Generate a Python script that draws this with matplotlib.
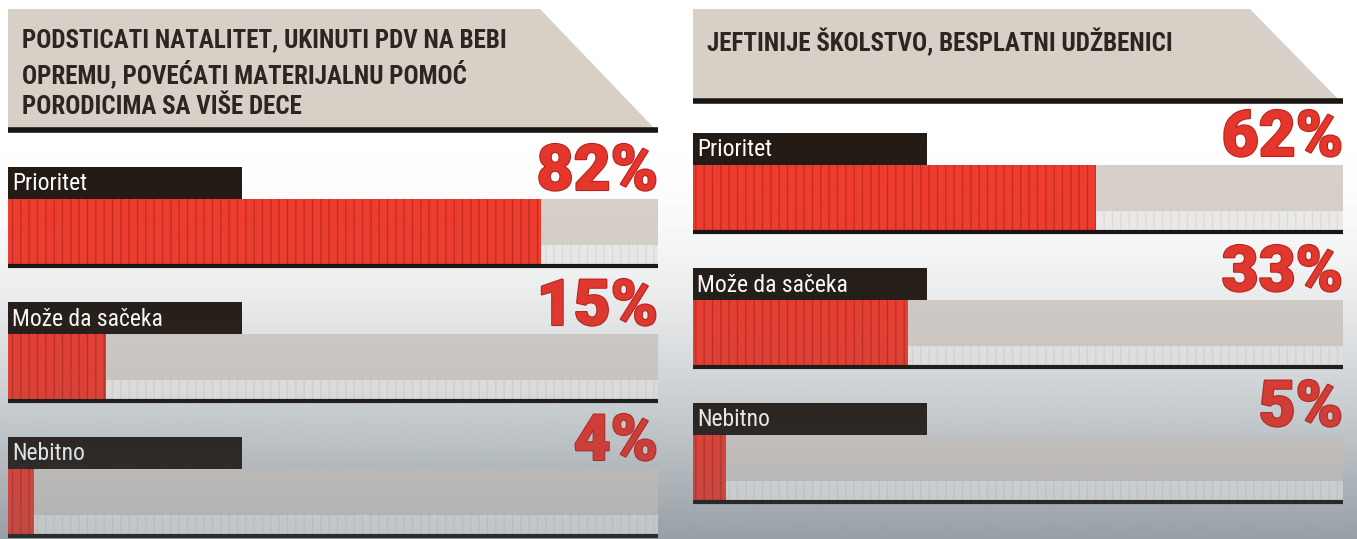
import numpy as np
import matplotlib
matplotlib.use("Agg")
import matplotlib.pyplot as plt
from matplotlib.patches import Polygon
import matplotlib.patheffects as pe

# ---------------- data ----------------
titles = [
    "PODSTICATI NATALITET, UKINUTI PDV NA BEBI\nOPREMU, POVEĆATI MATERIJALNU POMOĆ\nPORODICIMA SA VIŠE DECE",
    "JEFTINIJE ŠKOLSTVO, BESPLATNI UDŽBENICI",
]
categories = ["Prioritet", "Može da sačeka", "Nebitno"]
values_left = [82, 15, 4]
values_right = [62, 33, 5]
all_values = [values_left, values_right]

# ---------------- layout (pixels) ----------------
W, H = 1357, 539
plt.rcParams['hatch.linewidth'] = 0.9
fig = plt.figure(figsize=(W / 100, H / 100), dpi=100)
fig.patch.set_facecolor("white")

cond = ["Roboto Condensed", "IBM Plex Sans Condensed", "DejaVu Sans"]

# background gradient
bg = fig.add_axes([0, 0, 1, 1], zorder=0)
bg.axis("off")
yy = np.arange(H)
tb = np.clip((yy - 150) / (H - 150), 0, 1) ** 1.8
top_c = np.array([1.0, 1.0, 1.0])
bot_c = np.array([0xb2, 0xb8, 0xbc]) / 255
grad = top_c[None, :] * (1 - tb[:, None]) + bot_c[None, :] * tb[:, None]
bg.imshow(grad[:, None, :], aspect="auto", extent=[0, 1, 1, 0], interpolation="bilinear")
bg.set_xlim(0, 1)
bg.set_ylim(1, 0)

panels = [
    dict(x0=8, x1=658, head_top=9, head_bot=128, cut_x=540, cut_bot=654, first=167),
    dict(x0=693, x1=1343, head_top=9, head_bot=99, cut_x=1250, cut_bot=1338, first=133),
]
pitch = 135
box_h = 32
bar_h = 65
box_w = 234

RED = "#ee3d2f"
RED_DARK = "#c22a22"
BEIGE = "#d8d0c6"
TRACK = "#d6cfca"
TRACK_LOW = "#ecebea"
DARK = "#241b15"

for p, title, vals in zip(panels, titles, all_values):
    x0, x1 = p["x0"], p["x1"]
    span = x1 - x0
    ax = fig.add_axes([x0 / W, 0, span / W, 1], zorder=1)
    ax.set_xlim(0, 100)
    ax.set_ylim(H, 0)
    ax.axis("off")
    ax.patch.set_alpha(0)
    px = lambda v: (v - x0) / span * 100

    # header
    poly = Polygon([(0, p["head_top"]), (px(p["cut_x"]), p["head_top"]),
                    (px(p["cut_bot"]), p["head_bot"]), (0, p["head_bot"])],
                   closed=True, facecolor=BEIGE, edgecolor="none", zorder=1)
    ax.add_patch(poly)
    ax.plot([0, 100], [p["head_bot"] + 2, p["head_bot"] + 2], color="#1a1512",
            lw=4, solid_capstyle="butt", zorder=3)
    ax.text(px(x0 + 14), p["head_top"] + 19, title, ha="left", va="top",
            fontsize=18, fontweight="bold", family=cond, color="#2b2622",
            linespacing=1.32, zorder=4)

    for i, (cat, v) in enumerate(zip(categories, vals)):
        top = p["first"] + i * pitch
        bar_top = top + box_h
        bar_c = bar_top + bar_h / 2
        # label box
        ax.barh(top + box_h / 2, px(x0 + box_w), height=box_h, left=0,
                color=DARK, edgecolor="none", zorder=3)
        ax.text(px(x0 + 4), top + box_h / 2 + 1, cat, ha="left", va="center",
                fontsize=17, fontweight="normal", family=cond, color="white", zorder=4)
        # track (upper and lower parts)
        ax.barh(bar_top + bar_h * 0.35, 100 - v, height=bar_h * 0.7, left=v,
                color=TRACK, edgecolor="none", zorder=2)
        ax.barh(bar_top + bar_h * 0.85, 100 - v, height=bar_h * 0.3, left=v,
                color=TRACK_LOW, edgecolor="#dcdcdc", hatch="||", linewidth=0,
                zorder=2)
        # value bar
        ax.barh(bar_c, v, height=bar_h, left=0, color=RED,
                edgecolor=RED_DARK, hatch="||", linewidth=0, zorder=3)
        # bottom rule
        ax.plot([0, 100], [bar_top + bar_h + 1.5, bar_top + bar_h + 1.5],
                color="#1a1512", lw=3, solid_capstyle="butt", zorder=4)
        # percentage
        ax.text(100, top + 5, f"{v}%", ha="right", va="center",
                fontsize=46, fontweight="black", family=["Roboto", "DejaVu Sans"],
                color="#e5362c", zorder=5,
                path_effects=[pe.withStroke(linewidth=1.5, foreground="#b5221c")])

# gradient overlay (grey darkening toward bottom)
ov = fig.add_axes([0, 0, 1, 1], zorder=10)
ov.axis("off")
ov.patch.set_alpha(0)
rgba = np.zeros((H, 1, 4))
rgba[:, 0, 0] = 0x5a / 255
rgba[:, 0, 1] = 0x6a / 255
rgba[:, 0, 2] = 0x74 / 255
rgba[:, 0, 3] = 0.30 * tb
ov.imshow(rgba, aspect="auto", extent=[0, 1, 1, 0], interpolation="bilinear")
ov.set_xlim(0, 1)
ov.set_ylim(1, 0)

fig.savefig("out.png", dpi=100)
